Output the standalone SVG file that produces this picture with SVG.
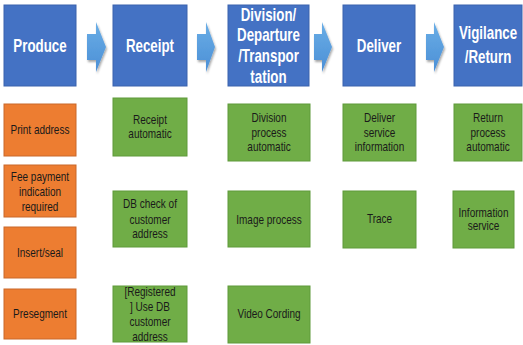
<svg xmlns="http://www.w3.org/2000/svg" width="523" height="345" viewBox="0 0 523 345">
<defs>
<linearGradient id="ag" x1="0" y1="0" x2="0" y2="1">
<stop offset="0" stop-color="#6aaee6"/>
<stop offset="1" stop-color="#4b8fd6"/>
</linearGradient>
<filter id="sh" x="-30%" y="-30%" width="160%" height="160%">
<feGaussianBlur in="SourceAlpha" stdDeviation="1.2"/>
<feOffset dx="1" dy="2" result="b"/>
<feFlood flood-color="#000" flood-opacity="0.35"/>
<feComposite in2="b" operator="in"/>
<feMerge><feMergeNode/><feMergeNode in="SourceGraphic"/></feMerge>
</filter>
<style>
.hd{fill:#4472c4;stroke:#3a63ad;stroke-width:1}
.or{fill:#ed7d31;stroke:#c9692a;stroke-width:1}
.gr{fill:#70ad47;stroke:#5e9a3a;stroke-width:1}
.ht{font-family:"Liberation Sans","Noto Sans CJK KR",sans-serif;font-weight:bold;font-size:18px;fill:#fff;text-anchor:middle}
.st{font-family:"Liberation Sans","Noto Sans CJK KR",sans-serif;font-size:12.5px;fill:#1a1a1a;text-anchor:middle}
.ar{fill:url(#ag);filter:url(#sh)}
</style>
</defs>
<g id="connectors">
<path class="ar" d="M87,34 H96 V22 L106,47 L96,72 V60 H87 Z"/>
<path class="ar" d="M197,34 H206 V22 L215,47 L206,72 V60 H197 Z"/>
<path class="ar" d="M314,34 H322 V22 L332,47 L322,72 V60 H314 Z"/>
<path class="ar" d="M426,34 H434 V22 L444,47 L434,72 V60 H426 Z"/>
</g>
<g id="produce"><rect class="hd" x="4" y="5" width="72" height="81"/><g transform="matrix(0.74 0 0 1 40 0)"><text class="ht" x="0" y="52">Produce</text></g></g>
<g id="receipt"><rect class="hd" x="113" y="5" width="74" height="81"/><g transform="matrix(0.74 0 0 1 150 0)"><text class="ht" x="0" y="52">Receipt</text></g></g>
<g id="division"><rect class="hd" x="228" y="5" width="81" height="81"/><g transform="matrix(0.74 0 0 1 268.5 0)"><text class="ht" x="0" y="21">Division/</text><text class="ht" x="0" y="41.5">Departure</text><text class="ht" x="0" y="62">/Transpor</text><text class="ht" x="0" y="83">tation</text></g></g>
<g id="deliver"><rect class="hd" x="343" y="5" width="72" height="81"/><g transform="matrix(0.74 0 0 1 379 0)"><text class="ht" x="0" y="52">Deliver</text></g></g>
<g id="vigilance"><rect class="hd" x="454" y="5" width="68" height="81"/><g transform="matrix(0.74 0 0 1 488 0)"><text class="ht" x="0" y="39.5">Vigilance</text><text class="ht" x="0" y="63.5">/Return</text></g></g>

<g id="print-address"><rect class="or" x="4" y="104" width="72" height="52"/><g transform="matrix(0.8 0 0 1 40 0)"><text class="st" x="0" y="134.5">Print address</text></g></g>
<g id="fee-payment"><rect class="or" x="4" y="165" width="72" height="52"/><g transform="matrix(0.8 0 0 1 40 0)"><text class="st" x="0" y="181">Fee payment</text><text class="st" x="0" y="196">indication</text><text class="st" x="0" y="211">required</text></g></g>
<g id="insert-seal"><rect class="or" x="4" y="227" width="72" height="51"/><g transform="matrix(0.8 0 0 1 40 0)"><text class="st" x="0" y="257">Insert/seal</text></g></g>
<g id="presegment"><rect class="or" x="4" y="289" width="72" height="50"/><g transform="matrix(0.8 0 0 1 40 0)"><text class="st" x="0" y="318">Presegment</text></g></g>

<g id="receipt-automatic"><rect class="gr" x="113" y="98" width="74" height="58"/><g transform="matrix(0.8 0 0 1 150 0)"><text class="st" x="0" y="124">Receipt</text><text class="st" x="0" y="138">automatic</text></g></g>
<g id="db-check"><rect class="gr" x="113" y="191" width="74" height="56"/><g transform="matrix(0.8 0 0 1 150 0)"><text class="st" x="0" y="208">DB check of</text><text class="st" x="0" y="224">customer</text><text class="st" x="0" y="238">address</text></g></g>
<g id="registered"><rect class="gr" x="113" y="286" width="74" height="56"/><g transform="matrix(0.8 0 0 1 150 0)"><text class="st" x="0" y="296">[Registered</text><text class="st" x="0" y="311">] Use DB</text><text class="st" x="0" y="326">customer</text><text class="st" x="0" y="341">address</text></g></g>

<g id="division-process"><rect class="gr" x="228" y="104" width="82" height="57"/><g transform="matrix(0.8 0 0 1 269 0)"><text class="st" x="0" y="122">Division</text><text class="st" x="0" y="137">process</text><text class="st" x="0" y="151">automatic</text></g></g>
<g id="image-process"><rect class="gr" x="228" y="191" width="82" height="56"/><g transform="matrix(0.8 0 0 1 269 0)"><text class="st" x="0" y="224">Image process</text></g></g>
<g id="video-cording"><rect class="gr" x="228" y="286" width="82" height="57"/><g transform="matrix(0.8 0 0 1 269 0)"><text class="st" x="0" y="318">Video Cording</text></g></g>

<g id="deliver-service"><rect class="gr" x="343" y="104" width="73" height="57"/><g transform="matrix(0.8 0 0 1 379.5 0)"><text class="st" x="0" y="122">Deliver</text><text class="st" x="0" y="137">service</text><text class="st" x="0" y="151">information</text></g></g>
<g id="trace"><rect class="gr" x="343" y="191" width="73" height="57"/><g transform="matrix(0.8 0 0 1 379.5 0)"><text class="st" x="0" y="223">Trace</text></g></g>

<g id="return-process"><rect class="gr" x="454" y="104" width="68" height="57"/><g transform="matrix(0.8 0 0 1 488 0)"><text class="st" x="0" y="122">Return</text><text class="st" x="0" y="137">process</text><text class="st" x="0" y="151">automatic</text></g></g>
<g id="information-service"><rect class="gr" x="453" y="191" width="61" height="57"/><g transform="matrix(0.8 0 0 1 483.5 0)"><text class="st" x="0" y="217">Information</text><text class="st" x="0" y="230">service</text></g></g>
</svg>
